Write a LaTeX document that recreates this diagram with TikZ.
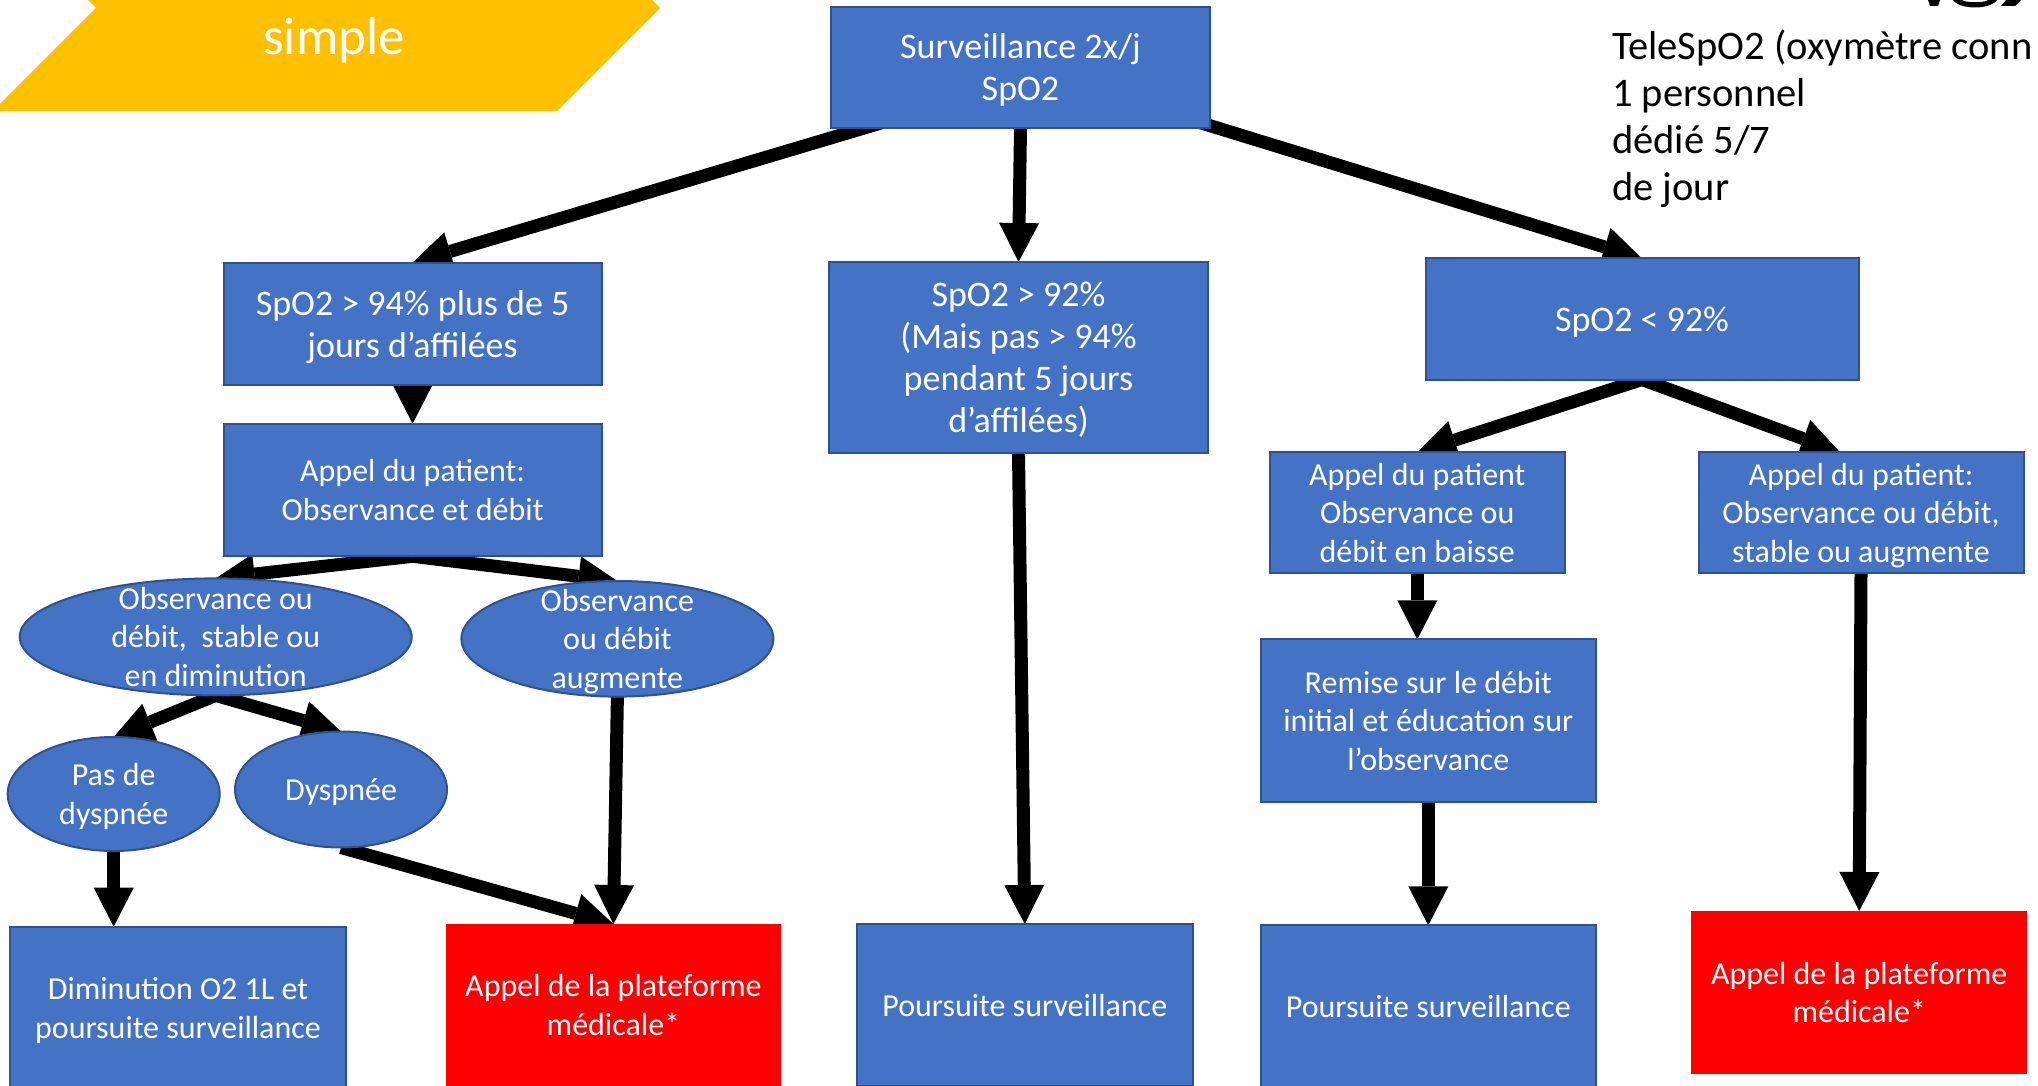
\documentclass[tikz,border=0pt]{standalone}
\usepackage{fontspec}
\setmainfont{Carlito}
\usetikzlibrary{arrows.meta,calc,shapes.geometric}
\pgfdeclarelayer{bg}
\pgfsetlayers{bg,main}
\definecolor{boxblue}{HTML}{4472C4}
\definecolor{boxedge}{HTML}{2F528F}
\definecolor{alertred}{HTML}{FF0000}
\definecolor{bannery}{HTML}{FFC000}
\newcommand\zd[1]{\raisebox{0pt}[\height][0pt]{#1}}
\begin{document}
\begin{tikzpicture}[x=1pt,y=-1pt,
  bbox/.style={rectangle, draw=boxedge, line width=2pt, fill=boxblue, text=white, align=center, inner sep=0pt, outer sep=0pt},
  bigtxt/.style={font=\fontsize{36}{42}\selectfont},
  smalltxt/.style={font=\fontsize{32}{38.5}\selectfont},
  redbox/.style={rectangle, fill=alertred, text=white, align=center, inner sep=0pt, outer sep=0pt, font=\fontsize{32}{38.5}\selectfont},
  oval/.style={ellipse, draw=boxedge, line width=2pt, fill=boxblue, text=white, align=center, inner xsep=0pt, inner ysep=-30pt, outer sep=0pt, font=\fontsize{32}{38.5}\selectfont},
  arr/.style={line width=13pt, -{Triangle[width=40pt,length=39pt,line width=0pt]}},
  sidetxt/.style={anchor=base west, inner sep=0pt, font=\fontsize{40.5}{48}\selectfont},
]
\useasboundingbox (0,0) rectangle (2038,1086);

% banner
\fill[bannery] (0,111) -- (557,111) -- (660,8) -- (652,0) -- (88,0) -- (96,8) -- (0,104) -- cycle;
\node[anchor=base, inner sep=0pt, text=white, font=\fontsize{53}{60}\selectfont] (simple) at (334,55) {simple};

% cut-off title fragments at top right
\fill[black] (1928,0) -- (1940,0) -- (1938,6) -- (1930,6) -- cycle;
\fill[black] (1953,0) -- (1962,0) .. controls (1965,3) and (1985,3) .. (1988,0) -- (1997,0) .. controls (1993,5.5) and (1983,7.5) .. (1975,7.5) .. controls (1967,7.5) and (1957,5.5) .. (1953,0) -- cycle;
\fill[black] (2006,0) -- (2021,0) -- (2015,6) -- (2001,6) -- cycle;

% side text
\node[sidetxt] (r1) at (1612,60) {TeleSpO2 (oxymètre conn};
\node[sidetxt] (r2) at (1612,107) {1 personnel};
\node[sidetxt] (r3) at (1612,154) {dédié 5/7};
\node[sidetxt] (r4) at (1612,201) {de jour};

% nodes
\node[bbox, bigtxt, minimum width=379pt, minimum height=121pt] (top) at (1020.5,67.5) {Surveillance 2x/j\\\zd{SpO2}};

\node[bbox, bigtxt, minimum width=378pt, minimum height=122pt] (B1) at (412.6,323.6) {SpO2 > 94\% plus de 5\\\zd{jours d’affilées}};
\node[bbox, smalltxt, minimum width=378pt, minimum height=132.6pt] (B2) at (412.6,490) {Appel du patient:\\Observance et débit};
\node[oval, minimum width=392pt, minimum height=117pt] (E1) at (215.7,636.9) {Observance ou\\débit,\ \ stable ou\\en diminution};
\node[oval, minimum width=312pt, minimum height=115.6pt] (E2) at (617.4,638.8) {Observance\\ou débit\\\zd{augmente}};
\node[oval, minimum width=212pt, minimum height=114pt] (E3) at (113.7,794) {Pas de\\\zd{dyspnée}};
\node[oval, minimum width=212pt, minimum height=116pt] (E4) at (341,789.5) {\zd{Dyspnée}};
\node[bbox, smalltxt, minimum width=335.3pt, minimum height=162pt] (B3) at (178,1007.7) {Diminution O2 1L et\\\zd{poursuite surveillance}};
\node[redbox, minimum width=335.2pt, minimum height=162pt] (B4) at (613.4,1005) {Appel de la plateforme\\médicale*};

\node[bbox, bigtxt, minimum width=379pt, minimum height=191pt] (B5) at (1018.5,357.5) {SpO2 > 92\%\\(Mais pas > 94\%\\pendant 5 jours\\\zd{d’affilées)}};
\node[bbox, smalltxt, minimum width=336.5pt, minimum height=162pt] (B6) at (1024.8,1005) {Poursuite surveillance};

\node[bbox, bigtxt, minimum width=433pt, minimum height=121pt] (B7) at (1642,319) {\zd{SpO2 < 92\%}};
\node[bbox, smalltxt, minimum width=295pt, minimum height=121pt] (B8) at (1417.3,512.7) {Appel du patient\\Observance ou\\débit en baisse};
\node[bbox, smalltxt, minimum width=325pt, minimum height=121pt] (B9) at (1861,512.7) {Appel du patient:\\Observance ou débit,\\\zd{stable ou augmente}};
\node[bbox, smalltxt, minimum width=335.3pt, minimum height=162.6pt] (B10) at (1428.3,720.7) {Remise sur le débit\\initial et éducation sur\\l’observance};
\node[bbox, smalltxt, minimum width=335.3pt, minimum height=162pt] (B11) at (1428.3,1006.4) {Poursuite surveillance};
\node[redbox, minimum width=336.5pt, minimum height=162.6pt] (B12) at (1859.2,992.3) {Appel de la plateforme\\médicale*};

% connectors
\begin{pgfonlayer}{bg}
\draw[arr] ($(top.south west)+(50,-5)$) -- (B1.north);
\draw[arr] (top.south) -- (B5.north);
\draw[arr] ($(top.south east)+(-12,-6)$) -- (B7.north);

\draw[arr] (B1.south) -- (B2.north);
\draw[arr] (B2.south) -- (E1.north);
\draw[arr] (B2.south) -- (E2.north);
\draw[arr] (E1.south) -- (E3.north);
\draw[arr] (E1.south) -- (E4.north);
\draw[arr] (E3.south) -- (E3.south |- B3.north);
\draw[arr] (E4.south) -- (B4.north);
\draw[arr] (E2.south) -- (B4.north);

\draw[arr] (B5.south) -- (B6.north);

\draw[arr] (B7.south) -- (B8.north);
\draw[arr] (B7.south) -- ($(B9.north)+(-21,0)$);
\draw[arr] (B8.south) -- (B8.south |- B10.north);
\draw[arr] (B10.south) -- (B11.north);
\draw[arr] (B9.south) -- (B12.north);
\end{pgfonlayer}
\end{tikzpicture}
\end{document}
